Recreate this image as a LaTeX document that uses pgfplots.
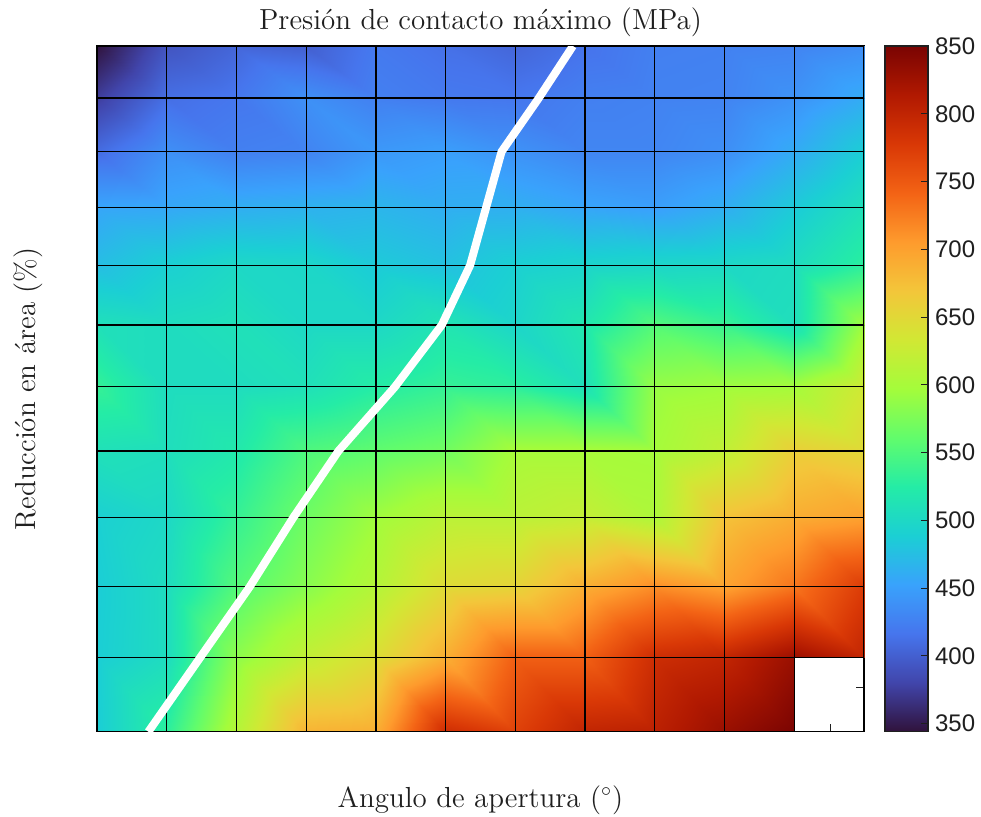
\documentclass[border=0pt]{standalone}
\usepackage{pgfplots}
\pgfplotsset{compat=1.18}
\usepackage{fontspec}
\newfontfamily\cbfont{Liberation Sans}
\definecolor{txt}{gray}{0.12}
\pgfplotsset{
  colormap={turbo}{rgb255=(48,18,59) rgb255=(65,69,171) rgb255=(70,117,237)
    rgb255=(57,162,252) rgb255=(27,207,212) rgb255=(36,236,166) rgb255=(97,252,108)
    rgb255=(164,252,59) rgb255=(209,232,52) rgb255=(243,198,58) rgb255=(254,155,45)
    rgb255=(243,99,21) rgb255=(217,56,6) rgb255=(177,25,1) rgb255=(122,4,2)},
  colorbar shift/.style={xshift=10.5pt},
  colorbar/width=21.5pt,
}
\begin{document}
\begin{tikzpicture}
\begin{axis}[
  name=main,
  scale only axis,
  width=383.5pt, height=342.85pt,
  xmin=0, xmax=11, ymin=0, ymax=685.7,
  enlargelimits=false,
  colormap name=turbo,
  point meta min=344, point meta max=850,
  xtick={10.52}, ytick={44},
  xticklabels={}, yticklabels={},
  xtick pos=left, ytick pos=right,
  tick align=inside,
  major tick length=4pt,
  every tick/.style={txt, line width=0.6pt},
  axis line style={black, line width=0.6pt},
  unbounded coords=jump,
  title={Presión de contacto máximo (MPa)},
  xlabel={Angulo de apertura ($^\circ$)},
  ylabel={Reducción en área (\%)},
  every axis title/.style={at={(axis description cs:0.5,1)}, anchor=base, yshift=8.4pt,
    font=\fontsize{14.5}{17}\selectfont, text=txt},
  every axis x label/.style={at={(axis description cs:0.5,0)}, anchor=base, yshift=-37.8pt,
    font=\fontsize{14.5}{17}\selectfont, text=txt},
  every axis y label/.style={at={(axis description cs:-0.0808,0.5)}, anchor=base, rotate=90,
    font=\fontsize{14.5}{17}\selectfont, text=txt},
  colorbar,
  colorbar style={
    at={(parent axis.north east)}, anchor=north west,
    axis on top,
    ytick={350,400,...,850},
    ytick pos=right, yticklabel pos=right,
    tick align=inside,
    major tick length=3.5pt,
    every tick/.style={txt, line width=0.5pt},
    axis line style={txt, line width=0.6pt},
    /pgf/number format/assume math mode=true,
    yticklabel style={font=\cbfont\fontsize{12}{14}\selectfont, text=txt},
  },
]
% pressure field on the (angle, reduction) grid; one corner has no result
\addplot[surf, shader=faceted interp, faceted color=black, line width=0.65pt,
  mesh/cols=12, mesh/rows=12, point meta=explicit] table[x=x, y=y, meta=p] {
x y p
0 0 487
1 0 530
2 0 610
3 0 685
4 0 690
5 0 790
6 0 770
7 0 800
8 0 805
9 0 830
10 0 850
11 nan 850
0 74 488
1 74 505
2 74 585
3 74 622
4 74 645
5 74 690
6 74 745
7 74 745
8 74 790
9 74 800
10 74 830
11 74 800
0 145 487
1 145 505
2 145 553
3 145 582
4 145 610
5 145 648
6 145 655
7 145 690
8 145 715
9 145 700
10 145 730
11 145 775
0 214.4 490
1 214.4 500
2 214.4 535
3 214.4 568
4 214.4 595
5 214.4 615
6 214.4 615
7 214.4 622
8 214.4 605
9 214.4 672
10 214.4 690
11 214.4 700
0 280.7 510
1 280.7 507
2 280.7 520
3 280.7 550
4 280.7 560
5 280.7 570
6 280.7 600
7 280.7 600
8 280.7 598
9 280.7 620
10 280.7 660
11 280.7 650
0 345 535
1 345 505
2 345 505
3 345 510
4 345 525
5 345 535
6 345 530
7 345 510
8 345 590
9 345 595
10 345 598
11 345 632
0 406.7 510
1 406.7 505
2 406.7 510
3 406.7 500
4 406.7 500
5 406.7 515
6 406.7 497
7 406.7 518
8 406.7 553
9 406.7 537
10 406.7 508
11 406.7 595
0 466.4 475
1 466.4 490
2 466.4 500
3 466.4 498
4 466.4 485
5 466.4 478
6 466.4 490
7 466.4 495
8 466.4 498
9 466.4 500
10 466.4 505
11 466.4 530
0 524.4 455
1 524.4 457
2 524.4 462
3 524.4 465
4 524.4 468
5 524.4 462
6 524.4 463
7 524.4 455
8 524.4 450
9 524.4 462
10 524.4 485
11 524.4 510
0 580 410
1 580 438
2 580 425
3 580 428
4 580 445
5 580 450
6 580 440
7 580 430
8 580 430
9 580 437
10 580 460
11 580 488
0 633.7 375
1 633.7 412
2 633.7 418
3 633.7 438
4 633.7 425
5 633.7 420
6 633.7 418
7 633.7 425
8 633.7 427
9 633.7 428
10 633.7 440
11 633.7 460
0 685.7 345
1 685.7 392
2 685.7 405
3 685.7 400
4 685.7 420
5 685.7 413
6 685.7 405
7 685.7 415
8 685.7 425
9 685.7 426
10 685.7 428
11 685.7 436
};
% optimum-angle curve
\addplot[white, line width=4pt, line join=round, no marks] coordinates {
  (0.737,0) (1.478,74) (2.191,145) (2.818,214.4)
  (3.463,280.7) (4.275,345) (4.945,406.7) (5.351,466.4)
  (5.802,580) (6.337,633.7) (6.825,685.7)
};
\end{axis}
\pgfresetboundingbox
\path[use as bounding box] ([shift={(-48.5pt,-42.15pt)}]main.south west)
  rectangle ([shift={(-48.5pt,-42.15pt)}]main.south west) ++(490.5pt,408pt);
\end{tikzpicture}
\end{document}
